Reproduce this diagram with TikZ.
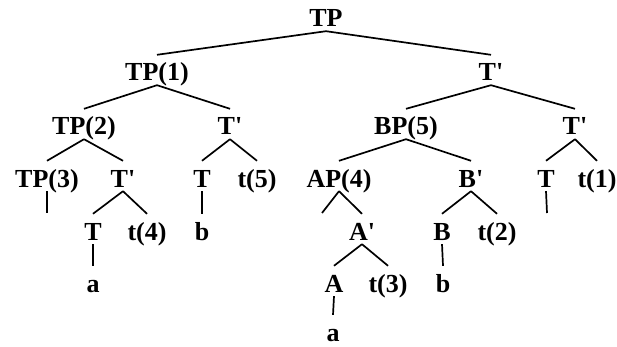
\documentclass[tikz,border=0pt]{standalone}
\usepackage{fontspec}
\setmainfont{Liberation Serif}
\usetikzlibrary{positioning}

\begin{document}
\begin{tikzpicture}[x=1pt, y=-1pt,
    cat/.style={anchor=base, inner sep=4pt, text height=22pt, text depth=0pt,
        font=\fontsize{26}{30}\selectfont\bfseries},
    branch/.style={line width=1.7pt}]
    \useasboundingbox (0,0) rectangle (617,347);

    % categories, row by row
    \node[cat] (tp)  at (326, 27) {TP};

    \node[cat] (tp1) at (157, 81) {TP(1)};
    \node[cat] (tb1) at (491, 81) {T\textquotesingle};

    \node[cat] (tp2) at ( 84,135) {TP(2)};
    \node[cat] (tb2) at (230,135) {T\textquotesingle};
    \node[cat] (bp5) at (406,135) {BP(5)};
    \node[cat] (tb3) at (575,135) {T\textquotesingle};

    \node[cat] (tp3) at ( 47,187) {TP(3)};
    \node[cat] (tb4) at (123,187) {T\textquotesingle};
    \node[cat] (t1)  at (202,187) {T};
    \node[cat] (tr5) at (257,187) {t(5)};
    \node[cat] (ap4) at (339,187) {AP(4)};
    \node[cat] (bb)  at (471,187) {B\textquotesingle};
    \node[cat] (t2)  at (546,187) {T};
    \node[cat] (tr1) at (597,187) {t(1)};

    \node[cat] (t3)  at ( 93,240) {T};
    \node[cat] (tr4) at (147,240) {t(4)};
    \node[cat] (b1)  at (202,240) {b};
    \node[cat] (ab)  at (362,240) {A\textquotesingle};
    \node[cat] (bh)  at (442,240) {B};
    \node[cat] (tr2) at (497,240) {t(2)};

    \node[cat] (a1)  at ( 93,292) {a};
    \node[cat] (ah)  at (334,292) {A};
    \node[cat] (tr3) at (388,292) {t(3)};
    \node[cat] (b2)  at (443,292) {b};

    \node[cat] (a2)  at (333,341) {a};

    % empty branch ends
    \coordinate (tp3end) at ( 47,213);
    \coordinate (ap4end) at (322,213);
    \coordinate (t2end)  at (547,213);

    \draw[branch] (tp.south) -- (tp1.north) (tp.south) -- (tb1.north);
    \draw[branch] (tp1.south) -- (tp2.north) (tp1.south) -- (tb2.north);
    \draw[branch] (tb1.south) -- (bp5.north) (tb1.south) -- (tb3.north);
    \draw[branch] (tp2.south) -- (tp3.north) (tp2.south) -- (tb4.north);
    \draw[branch] (tb2.south) -- (t1.north) (tb2.south) -- (tr5.north);
    \draw[branch] (bp5.south) -- (ap4.north) (bp5.south) -- (bb.north);
    \draw[branch] (tb3.south) -- (t2.north) (tb3.south) -- (tr1.north);
    \draw[branch] (tp3.south) -- (tp3end);
    \draw[branch] (tb4.south) -- (t3.north) (tb4.south) -- (tr4.north);
    \draw[branch] (t1.south) -- (b1.north);
    \draw[branch] (ap4.south) -- (ap4end) (ap4.south) -- (ab.north);
    \draw[branch] (bb.south) -- (bh.north) (bb.south) -- (tr2.north);
    \draw[branch] (t2.south) -- (t2end);
    \draw[branch] (t3.south) -- (a1.north);
    \draw[branch] (ab.south) -- (ah.north) (ab.south) -- (tr3.north);
    \draw[branch] (bh.south) -- (b2.north);
    \draw[branch] (ah.south) -- (a2.north);
\end{tikzpicture}
\end{document}
